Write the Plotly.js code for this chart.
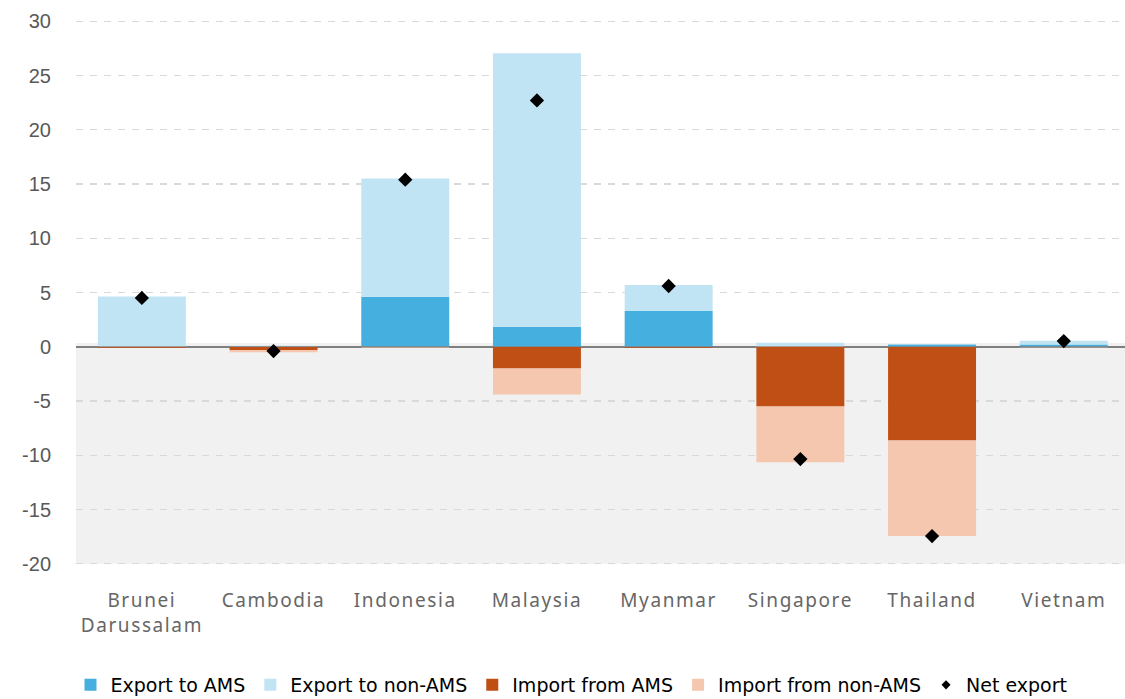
<!DOCTYPE html>
<html>
<head>
<meta charset="utf-8">
<script src="https://cdn.plot.ly/plotly-3.0.1.min.js"></script>
<style>
  html, body { margin: 0; padding: 0; background: #ffffff; }
  #chart { width: 1125px; height: 699px; }
  /* airy spacing for the country names */
  #chart .xtick text { letter-spacing: 1.6px; }
</style>
</head>
<body>
<div id="chart"></div>
<script>
// ASEAN member states: trade balance components by country
const countries = ['Brunei<br>Darussalam', 'Cambodia', 'Indonesia', 'Malaysia', 'Myanmar', 'Singapore', 'Thailand', 'Vietnam'];
const exportAMS = [0.02, 0.05, 4.6, 1.85, 3.3, 0.02, 0.2, 0.2];
const exportNonAMS = [4.6, 0.05, 10.9, 25.2, 2.4, 0.35, 0.02, 0.35];
const importAMS = [-0.1, -0.3, -0.05, -2.0, -0.1, -5.5, -8.65, -0.02];
const importNonAMS = [0.0, -0.2, -0.05, -2.4, 0.0, -5.15, -8.8, -0.02];
const netExport = [4.5, -0.4, 15.4, 22.7, 5.6, -10.35, -17.45, 0.52];

const yTickVals = [-20, -15, -10, -5, 0, 5, 10, 15, 20, 25, 30];
const yTickText = ['-20', '-15', '-10', '-5', '0', '5', '10', '15', '20', '25', '30'];

const colExportAMS = '#45AFDF';
const colExportNon = '#C1E4F4';
const colImportAMS = '#C04F15';
const colImportNon = '#F5C7AE';

const labelFont = { family: 'Noto Sans, Open Sans, sans-serif', size: 19, color: '#666666' };

function barTrace(name, values, color) {
  return {
    type: 'bar', name: name, x: countries, y: values,
    marker: { color: color, line: { width: 0 } },
    hoverinfo: 'x+y+name'
  };
}

const traces = [
  barTrace('Export to AMS', exportAMS, colExportAMS),
  barTrace('Export to non-AMS', exportNonAMS, colExportNon),
  barTrace('Import from AMS', importAMS, colImportAMS),
  barTrace('Import from non-AMS', importNonAMS, colImportNon),
  {
    type: 'scatter', mode: 'markers', name: 'Net export',
    x: countries, y: netExport,
    marker: { symbol: 'diamond', size: 11, color: '#000000' },
    showlegend: false
  },
  {
    // compact legend entry for the net export markers
    type: 'scatter', mode: 'markers', name: 'Net export',
    x: [null], y: [null],
    marker: { symbol: 'diamond', size: 7, color: '#000000' },
    hoverinfo: 'skip'
  }
];

const layout = {
  width: 1125, height: 699,
  margin: { l: 76, r: 0, t: 18, b: 132 },
  paper_bgcolor: '#ffffff',
  plot_bgcolor: 'rgba(0,0,0,0)',
  barmode: 'relative',
  bargap: 0.332,
  showlegend: true,
  legend: {
    orientation: 'h', x: 0.508, xanchor: 'center', xref: 'container',
    y: 0.02, yanchor: 'middle', yref: 'container',
    font: { family: 'DejaVu Sans, Noto Sans, sans-serif', size: 19, color: '#000000' },
    itemwidth: 30, traceorder: 'normal'
  },
  xaxis: {
    type: 'category',
    range: [-0.5, 7.465],
    showgrid: false, zeroline: false, showline: false,
    ticks: 'outside', ticklen: 16, tickcolor: 'rgba(0,0,0,0)',
    tickfont: labelFont, fixedrange: true
  },
  yaxis: {
    range: [-20.3, 30.3],
    tickvals: yTickVals, ticktext: yTickText,
    showgrid: true, gridcolor: '#D9D9D9', gridwidth: 1.2, griddash: '7px,7px',
    zeroline: true, zerolinecolor: '#7F7F7F', zerolinewidth: 1.6,
    showline: false,
    ticks: 'outside', ticklen: 20, tickcolor: 'rgba(0,0,0,0)',
    tickfont: { family: 'Liberation Sans, Arial, sans-serif', size: 20, color: '#595959' },
    fixedrange: true
  },
  shapes: [{
    type: 'rect', layer: 'below',
    xref: 'paper', x0: 0, x1: 1,
    yref: 'y', y0: -20, y1: 0.35,
    fillcolor: '#F1F1F1', line: { width: 0 }
  }]
};

Plotly.newPlot('chart', traces, layout, { displayModeBar: false, staticPlot: true });
</script>
</body>
</html>
